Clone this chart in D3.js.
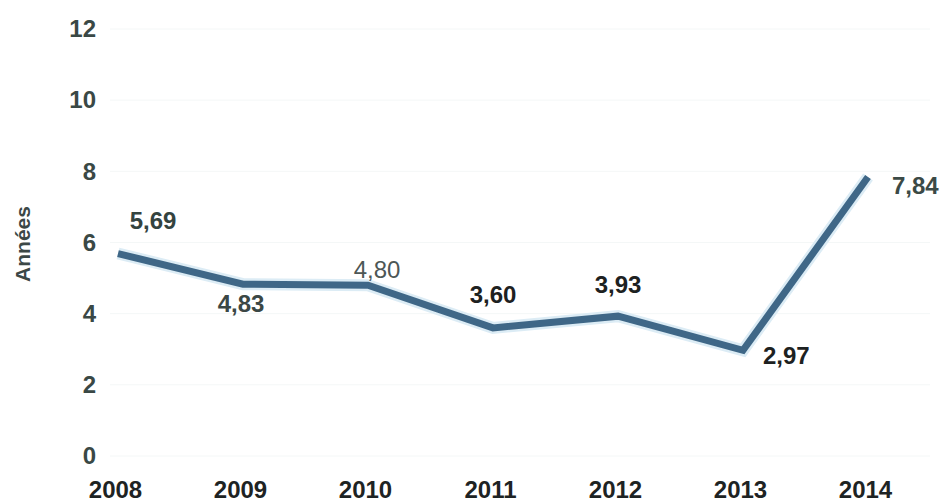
<!DOCTYPE html>
<html>
<head>
<meta charset="utf-8">
<script src="https://cdn.jsdelivr.net/npm/d3@7"></script>
<style>
  html, body { margin: 0; padding: 0; background: #ffffff; }
  svg { display: block; }
  text { font-family: "Liberation Sans", Arial, sans-serif; }
</style>
</head>
<body>
<svg id="chart" width="941" height="502"></svg>
<script>
// Durée moyenne (années), 2008–2014
const years = ["2008", "2009", "2010", "2011", "2012", "2013", "2014"];
const values = [5.69, 4.83, 4.80, 3.60, 3.93, 2.97, 7.84];
const yTicks = [0, 2, 4, 6, 8, 10, 12];
const axisTitle = "Années";

// label placement and look relative to each point
const labelStyle = [
  { dx: 35, dy: -31, anchor: "middle", color: "#34433f", weight: "bold" },
  { dx: -2, dy: 22, anchor: "middle", color: "#3b4745", weight: "bold" },
  { dx: 9, dy: -14, anchor: "middle", color: "#4d5756", weight: "normal" },
  { dx: 0, dy: -31, anchor: "middle", color: "#1d2121", weight: "bold" },
  { dx: 0, dy: -30, anchor: "middle", color: "#1d2121", weight: "bold" },
  { dx: 20, dy: 7, anchor: "start", color: "#1d2121", weight: "bold" },
  { dx: 24, dy: 11, anchor: "start", color: "#3b4a46", weight: "bold" }
];

const fmt = v => d3.format(".2f")(v).replace(".", ",");

const svg = d3.select("#chart");

const x = d3.scalePoint().domain(years).range([118, 868]);
const y = d3.scaleLinear().domain([0, 12]).range([456, 29]);

// faint horizontal gridlines
svg.append("g")
  .selectAll("line")
  .data(yTicks)
  .join("line")
  .attr("x1", 110).attr("x2", 930)
  .attr("y1", d => y(d)).attr("y2", d => y(d))
  .attr("stroke", "#f4f7f7")
  .attr("stroke-width", 1);

// y axis labels
const yAxis = svg.append("g")
  .attr("transform", "translate(96,0)")
  .call(d3.axisLeft(y).tickValues(yTicks).tickSize(0).tickPadding(0).tickFormat(d3.format("d")));
yAxis.select(".domain").remove();
yAxis.selectAll("text")
  .attr("font-size", 24)
  .attr("font-weight", "bold")
  .attr("font-family", "Liberation Sans, Arial, sans-serif")
  .attr("fill", "#3a4845");

// x axis labels
const xAxis = svg.append("g")
  .attr("transform", "translate(0,490)")
  .call(d3.axisBottom(x).tickSize(0).tickPadding(0));
xAxis.select(".domain").remove();
xAxis.selectAll("text")
  .attr("dy", "0.35em")
  .attr("dx", -3)
  .attr("font-size", 24)
  .attr("font-weight", "bold")
  .attr("font-family", "Liberation Sans, Arial, sans-serif")
  .attr("fill", "#1e2323");

// axis title
svg.append("text")
  .attr("transform", "translate(24,244) rotate(-90)")
  .attr("text-anchor", "middle")
  .attr("dominant-baseline", "middle")
  .attr("font-size", 21)
  .attr("font-weight", "bold")
  .attr("fill", "#3c4746")
  .text(axisTitle);

// line
const line = d3.line()
  .x((d, i) => x(years[i]))
  .y(d => y(d));

svg.append("path")
  .datum(values)
  .attr("fill", "none")
  .attr("stroke", "#dcecf5")
  .attr("stroke-width", 12)
  .attr("stroke-linejoin", "miter")
  .attr("d", line);

svg.append("path")
  .datum(values)
  .attr("fill", "none")
  .attr("stroke", "#3f6787")
  .attr("stroke-width", 7)
  .attr("stroke-linejoin", "miter")
  .attr("d", line);

// value labels
svg.append("g")
  .selectAll("text")
  .data(values)
  .join("text")
  .attr("x", (d, i) => x(years[i]) + labelStyle[i].dx)
  .attr("y", (d, i) => y(d) + labelStyle[i].dy)
  .attr("text-anchor", (d, i) => labelStyle[i].anchor)
  .attr("dominant-baseline", "middle")
  .attr("font-size", 24)
  .attr("font-weight", (d, i) => labelStyle[i].weight)
  .attr("fill", (d, i) => labelStyle[i].color)
  .text(d => fmt(d));
</script>
</body>
</html>
